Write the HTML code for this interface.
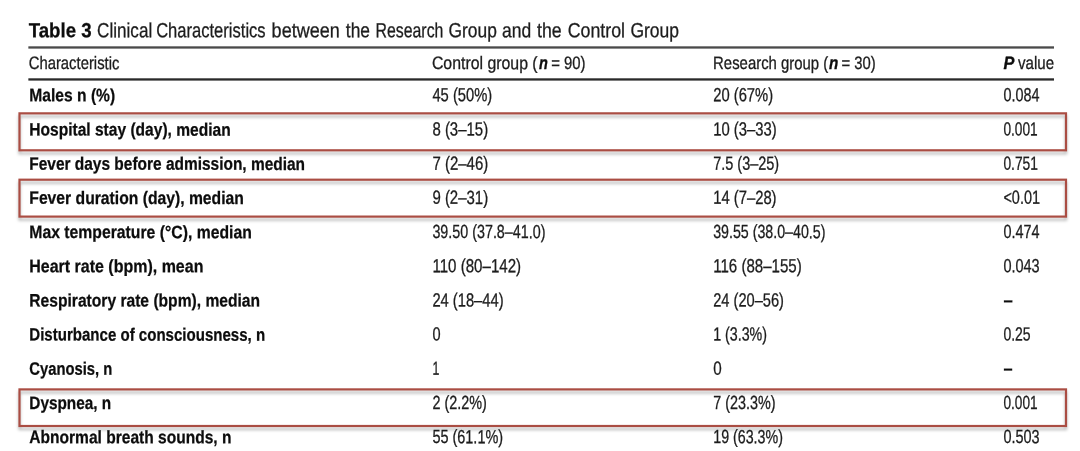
<!DOCTYPE html>
<html lang="en"><head><meta charset="utf-8"><title>Table 3</title>
<style>
html,body{margin:0;padding:0;background:#fff;}
body{width:1080px;height:451px;position:relative;overflow:hidden;font-family:"Liberation Sans",sans-serif;color:#222;}
svg{position:absolute;left:0;top:0;filter:blur(0.45px);}
text{font-family:"Liberation Sans",sans-serif;white-space:pre;}
.r{font-weight:normal;fill:#1c1c1c;stroke:#1c1c1c;stroke-width:0.3px;}
.b{font-weight:bold;fill:#0c0c0c;stroke:#0c0c0c;stroke-width:0.25px;}
.bi{font-weight:bold;font-style:italic;fill:#0c0c0c;stroke:#0c0c0c;stroke-width:0.35px;}
</style></head><body>
<svg width="1080" height="451" viewBox="0 0 1080 451">
<rect x="28.35" y="46.32" width="1025.65" height="2.30" fill="#4a4a4a"/>
<rect x="28.35" y="78.30" width="1025.65" height="2.30" fill="#2a2a2a"/>
<text class="b" font-size="20.5" transform="translate(28.67 37.15) scale(0.9114 1) skewY(0.05)">Table 3 </text>
<text class="r" font-size="20.5" transform="translate(97.07 37.15) scale(0.8352 1) skewY(0.05)">Clinical </text>
<text class="r" font-size="20.5" transform="translate(156.16 37.15) scale(0.8079 1) skewY(0.05)">Characteristics </text>
<text class="r" font-size="20.5" transform="translate(271.62 37.15) scale(0.8792 1) skewY(0.05)">between </text>
<text class="r" font-size="20.5" transform="translate(345.84 37.15) scale(0.8469 1) skewY(0.05)">the </text>
<text class="r" font-size="20.5" transform="translate(375.57 37.15) scale(0.7731 1) skewY(0.05)">Research </text>
<text class="r" font-size="20.5" transform="translate(448.53 37.15) scale(0.8474 1) skewY(0.05)">Group </text>
<text class="r" font-size="20.5" transform="translate(502.00 37.15) scale(0.8535 1) skewY(0.05)">and </text>
<text class="r" font-size="20.5" transform="translate(537.00 37.15) scale(0.8645 1) skewY(0.05)">the </text>
<text class="r" font-size="20.5" transform="translate(567.71 37.15) scale(0.8680 1) skewY(0.05)">Control </text>
<text class="r" font-size="20.5" transform="translate(630.40 37.15) scale(0.8530 1) skewY(0.05)">Group </text>
<text class="r" font-size="18" transform="translate(28.71 69.05) scale(0.8249 1) skewY(0.05)">Characteristic</text>
<text class="r" font-size="18" transform="translate(431.90 69.05) scale(0.8815 1) skewY(0.05)">Control group (</text>
<text class="bi" font-size="18" transform="translate(539.05 69.05) scale(0.8068 1) skewY(0.05)">n </text>
<text class="r" font-size="18" transform="translate(551.18 69.05) scale(0.8292 1) skewY(0.05)">= 90)</text>
<text class="r" font-size="18" transform="translate(713.08 69.05) scale(0.8289 1) skewY(0.05)">Research group (</text>
<text class="bi" font-size="18" transform="translate(829.03 69.05) scale(0.8476 1) skewY(0.05)">n </text>
<text class="r" font-size="18" transform="translate(841.53 69.05) scale(0.8243 1) skewY(0.05)">= 30)</text>
<text class="bi" font-size="18" transform="translate(1003.46 69.05) scale(0.9070 1) skewY(0.05)">P </text>
<text class="r" font-size="18" transform="translate(1017.98 69.05) scale(0.8380 1) skewY(0.05)">value</text>
<text class="b" font-size="18" transform="translate(29.30 101.30) scale(0.8677 1) skewY(0.05)">Males n (%)</text>
<text class="b" font-size="18" transform="translate(29.30 135.48) scale(0.8647 1) skewY(0.05)">Hospital stay (day), median</text>
<text class="b" font-size="18" transform="translate(29.30 169.66) scale(0.8595 1) skewY(0.05)">Fever days before admission, median</text>
<text class="b" font-size="18" transform="translate(29.30 203.84) scale(0.8730 1) skewY(0.05)">Fever duration (day), median</text>
<text class="b" font-size="18" transform="translate(29.30 238.02) scale(0.8758 1) skewY(0.05)">Max temperature (°C), median</text>
<text class="b" font-size="18" transform="translate(29.30 272.20) scale(0.8886 1) skewY(0.05)">Heart rate (bpm), mean</text>
<text class="b" font-size="18" transform="translate(29.30 306.38) scale(0.8678 1) skewY(0.05)">Respiratory rate (bpm), median</text>
<text class="b" font-size="18" transform="translate(29.30 340.56) scale(0.8372 1) skewY(0.05)">Disturbance of consciousness, n</text>
<text class="b" font-size="18" transform="translate(29.30 374.74) scale(0.8212 1) skewY(0.05)">Cyanosis, n</text>
<text class="b" font-size="18" transform="translate(29.30 408.92) scale(0.8540 1) skewY(0.05)">Dyspnea, n</text>
<text class="b" font-size="18" transform="translate(29.30 443.10) scale(0.8645 1) skewY(0.05)">Abnormal breath sounds, n</text>
<text class="r" font-size="19" transform="translate(432.40 101.30) scale(0.7756 1) skewY(0.05)">45 (50%)</text>
<text class="r" font-size="19" transform="translate(432.40 135.48) scale(0.7877 1) skewY(0.05)">8 (3–15)</text>
<text class="r" font-size="19" transform="translate(432.40 169.66) scale(0.7896 1) skewY(0.05)">7 (2–46)</text>
<text class="r" font-size="19" transform="translate(432.40 203.84) scale(0.7881 1) skewY(0.05)">9 (2–31)</text>
<text class="r" font-size="19" transform="translate(432.40 238.02) scale(0.7538 1) skewY(0.05)">39.50 (37.8–41.0)</text>
<text class="r" font-size="19" transform="translate(432.40 272.20) scale(0.7953 1) skewY(0.05)">110 (80–142)</text>
<text class="r" font-size="19" transform="translate(432.40 306.38) scale(0.7747 1) skewY(0.05)">24 (18–44)</text>
<text class="r" font-size="19" transform="translate(432.40 340.56) scale(0.7684 1) skewY(0.05)">0</text>
<text class="r" font-size="19" transform="translate(432.40 374.74) scale(0.6494 1) skewY(0.05)">1</text>
<text class="r" font-size="19" transform="translate(432.40 408.92) scale(0.7578 1) skewY(0.05)">2 (2.2%)</text>
<text class="r" font-size="19" transform="translate(432.40 443.10) scale(0.7608 1) skewY(0.05)">55 (61.1%)</text>
<text class="r" font-size="19" transform="translate(713.20 101.30) scale(0.7776 1) skewY(0.05)">20 (67%)</text>
<text class="r" font-size="19" transform="translate(713.20 135.48) scale(0.7804 1) skewY(0.05)">10 (3–33)</text>
<text class="r" font-size="19" transform="translate(713.20 169.66) scale(0.7628 1) skewY(0.05)">7.5 (3–25)</text>
<text class="r" font-size="19" transform="translate(713.20 203.84) scale(0.7798 1) skewY(0.05)">14 (7–28)</text>
<text class="r" font-size="19" transform="translate(713.20 238.02) scale(0.7488 1) skewY(0.05)">39.55 (38.0–40.5)</text>
<text class="r" font-size="19" transform="translate(713.20 272.20) scale(0.7940 1) skewY(0.05)">116 (88–155)</text>
<text class="r" font-size="19" transform="translate(713.20 306.38) scale(0.7707 1) skewY(0.05)">24 (20–56)</text>
<text class="r" font-size="19" transform="translate(713.20 340.56) scale(0.7500 1) skewY(0.05)">1 (3.3%)</text>
<text class="r" font-size="19" transform="translate(713.20 374.74) scale(0.8037 1) skewY(0.05)">0</text>
<text class="r" font-size="19" transform="translate(713.20 408.92) scale(0.7572 1) skewY(0.05)">7 (23.3%)</text>
<text class="r" font-size="19" transform="translate(713.20 443.10) scale(0.7514 1) skewY(0.05)">19 (63.3%)</text>
<text class="r" font-size="19" transform="translate(1003.40 101.30) scale(0.7578 1) skewY(0.05)">0.084</text>
<text class="r" font-size="19" transform="translate(1003.40 135.48) scale(0.7208 1) skewY(0.05)">0.001</text>
<text class="r" font-size="19" transform="translate(1003.40 169.66) scale(0.7279 1) skewY(0.05)">0.751</text>
<text class="r" font-size="19" transform="translate(1003.40 203.84) scale(0.7629 1) skewY(0.05)">&lt;0.01</text>
<text class="r" font-size="19" transform="translate(1003.40 238.02) scale(0.7593 1) skewY(0.05)">0.474</text>
<text class="r" font-size="19" transform="translate(1003.40 272.20) scale(0.7634 1) skewY(0.05)">0.043</text>
<text class="b" font-size="19" transform="translate(1003.40 306.38) scale(0.8754 1) skewY(0.05)">–</text>
<text class="r" font-size="19" transform="translate(1003.40 340.56) scale(0.7371 1) skewY(0.05)">0.25</text>
<text class="b" font-size="19" transform="translate(1003.40 374.74) scale(0.8586 1) skewY(0.05)">–</text>
<text class="r" font-size="19" transform="translate(1003.40 408.92) scale(0.7198 1) skewY(0.05)">0.001</text>
<text class="r" font-size="19" transform="translate(1003.40 443.10) scale(0.7604 1) skewY(0.05)">0.503</text>
<g fill="none" stroke="#aa4d43" stroke-width="2.2" style="filter:drop-shadow(0.6px 3.8px 1.4px rgba(0,0,0,0.28))">
<rect x="19.50" y="113.35" width="1046.50" height="36.95"/>
<rect x="19.50" y="179.70" width="1046.50" height="36.90"/>
<rect x="19.50" y="389.40" width="1046.50" height="36.60"/>
</g>
</svg>
</body></html>
